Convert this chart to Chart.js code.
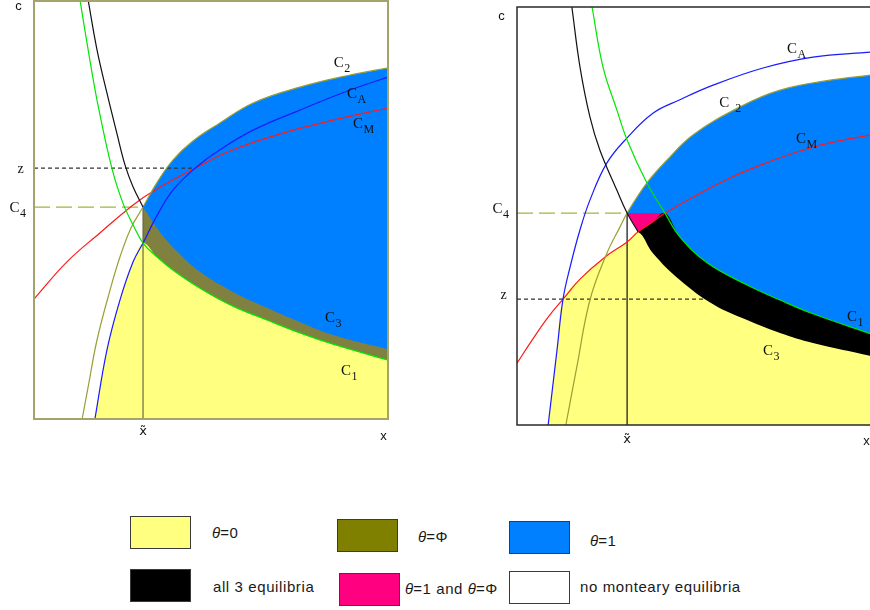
<!DOCTYPE html>
<html>
<head>
<meta charset="utf-8">
<script src="https://cdn.jsdelivr.net/npm/chart.js@4.4.1/dist/chart.umd.min.js"></script>
<style>
  html, body { margin: 0; padding: 0; background: #fff; }
  body { width: 870px; height: 610px; overflow: hidden; position: relative; }
  canvas { position: absolute; top: 0; }
  #left { left: 0; }
  #right { left: 480px; }
  .sw { position: absolute; box-sizing: border-box; border: 1.5px solid #3a3a3a; width: 61px; height: 33px; }
  .lt { position: absolute; font-family: "Liberation Sans", Arial, sans-serif; font-size: 15px; line-height: 18px;
        color: #1a1a1a; letter-spacing: 0.6px; white-space: nowrap; }
  .lt i { font-style: italic; letter-spacing: 0; }
</style>
</head>
<body>
<canvas id="left" width="400" height="450"></canvas>
<canvas id="right" width="400" height="450"></canvas>

<div class="sw" style="left:130px;top:516px;background:#ffff80"></div>
<div class="lt" style="left:212px;top:524px"><i>θ</i>=0</div>
<div class="sw" style="left:337px;top:519px;background:#808000"></div>
<div class="lt" style="left:418px;top:528px"><i>θ</i>=Φ</div>
<div class="sw" style="left:509px;top:521px;background:#0080ff"></div>
<div class="lt" style="left:590px;top:532px"><i>θ</i>=1</div>

<div class="sw" style="left:130px;top:569px;background:#000"></div>
<div class="lt" style="left:213px;top:578px">all 3 equilibria</div>
<div class="sw" style="left:339px;top:573px;background:#ff0080"></div>
<div class="lt" style="left:405px;top:580px"><i>θ</i>=1 and <i>θ</i>=Φ</div>
<div class="sw" style="left:509px;top:571px;background:#fff"></div>
<div class="lt" style="left:580px;top:578px">no monteary equilibria</div>

<script>
// Both diagrams use x on the horizontal axis and c on the vertical axis, each running 0..10.

// ---- left diagram ----
const X_TILDE_L = 3.08;   // x~
const C4_L = 5.07;        // level C4
const Z_L = 6.00;         // level z (where C_A meets C_M)
const Z_END_L = 4.55;

const c1L = [[1.30,10.02],[1.53,8.83],[1.78,7.63],[2.20,6.00],[2.51,5.17],[2.80,4.64],[3.08,4.21],[3.47,3.88],
             [3.93,3.56],[4.69,3.13],[5.62,2.70],[6.58,2.37],[7.51,2.06],[8.45,1.79],[10,1.41]];
const c2L = [[1.36,0],[1.53,0.77],[1.78,1.89],[2.15,3.09],[2.43,3.88],[2.74,4.57],[3.08,5.07],[3.47,5.65],
             [3.93,6.20],[4.49,6.65],[5.25,7.08],[6.19,7.56],[7.51,7.94],[8.93,8.23],[10,8.40]];
const c3L = [[1.53,10.02],[1.78,8.83],[2.06,7.80],[2.34,6.84],[2.57,6.08],[2.80,5.55],[3.08,5.07],[3.56,4.47],
             [4.12,3.95],[4.69,3.52],[5.62,3.04],[6.58,2.66],[7.51,2.32],[8.45,2.01],[10,1.67]];
const cAL = [[1.72,0],[2.06,1.65],[2.43,2.85],[2.80,3.76],[3.08,4.21],[3.47,4.86],[3.93,5.48],[4.55,6.00],
             [5.25,6.44],[6.19,6.91],[7.51,7.39],[8.93,7.87],[10,8.18]];
const cML = [[0,2.87],[0.93,3.76],[1.86,4.45],[2.80,5.12],[3.42,5.48],[4.55,6.00],[5.62,6.44],[7.03,6.84],
             [8.45,7.15],[10,7.44]];

// ---- right diagram ----
const X_TILDE_R = 3.11;
const C4_R = 5.07;
const Z_R = 3.01;
const Z_END_R = 5.30;
const CA_CM_R = 1.30;     // C_A crosses C_M
const CM_C3_R = 3.42;     // C_M crosses C_3
const CM_C1_R = 4.18;     // C_M and C_1 reach C4

const c1R = [[2.12,10.0],[2.43,8.56],[2.82,7.54],[3.11,6.82],[3.67,5.79],[4.18,5.07],[4.60,4.50],[5.37,3.88],
             [6.50,3.35],[7.43,2.99],[8.36,2.66],[10,2.18]];
const c2R = [[1.38,0],[1.69,1.39],[2.06,2.99],[2.54,4.11],[2.91,4.74],[3.11,5.07],[3.67,5.79],[4.24,6.34],
             [4.97,6.94],[6.30,7.61],[7.43,8.01],[8.84,8.25],[10,8.37]];
const c3R = [[1.55,10.0],[1.78,8.56],[2.06,7.37],[2.34,6.58],[2.82,5.62],[3.11,5.07],[3.42,4.62],
             [3.84,4.11],[4.60,3.47],[5.54,2.89],[6.50,2.51],[7.43,2.20],[8.36,1.96],[10,1.65]];
const cAR = [[0.88,0],[1.13,1.79],[1.30,3.01],[1.50,3.78],[1.78,4.67],[2.06,5.38],[2.54,6.27],[3.11,6.87],
             [3.84,7.46],[4.60,7.78],[5.54,8.13],[6.95,8.54],[8.36,8.80],[10,8.92]];
const cMR = [[0,1.48],[0.45,2.06],[0.88,2.58],[1.30,3.01],[1.78,3.49],[2.49,4.02],[3.11,4.38],[3.42,4.62],
             [3.84,4.86],[4.18,5.07],[5.08,5.50],[6.02,5.91],[6.95,6.24],[7.91,6.53],[8.84,6.75],[10,6.94]];

// ---- helpers ----
const pts = a => a.map(([x, y]) => ({ x, y }));
const span = (a, lo, hi, loIncl = true, hiIncl = true) =>
  a.filter(([x]) => (loIncl ? x >= lo : x > lo) && (hiIncl ? x <= hi : x < hi));

const COL = {
  yellow: '#ffff80', olive: '#808040', blue: '#0080ff', black: '#000000', pink: '#ff0080',
  lineBlue: '#1a1aff', lineRed: '#ff1a1a', lineGreen: '#00e600', lineOlive: '#99a033', lineBlack: '#111'
};
const SERIF = '"Liberation Serif", "Times New Roman", serif';
const SANS = '"Liberation Sans", Arial, sans-serif';
const SMOOTH = 0.4;

function area(data, color, order, tension = SMOOTH) {
  return { data: pts(data), fill: 'origin', backgroundColor: color, borderWidth: 0, pointRadius: 0,
           tension, order };
}
function curve(data, color, order, width = 1.2) {
  return { data: pts(data), fill: false, borderColor: color, borderWidth: width, pointRadius: 0,
           tension: SMOOTH, order };
}
function rule(data, color, order, dash, width = 1.2) {
  return { data: pts(data), fill: false, borderColor: color, borderWidth: width, pointRadius: 0,
           borderDash: dash || [], tension: 0, order };
}

// frame, axis letters and curve names
function labelPlugin(cfg) {
  return {
    id: 'diagramText',
    afterDatasetsDraw(chart) {
      const { ctx, chartArea: a, scales: { x, y } } = chart;
      ctx.save();
      ctx.strokeStyle = cfg.frame; ctx.lineWidth = cfg.frameWidth;
      ctx.strokeRect(a.left, a.top, a.right - a.left, a.bottom - a.top);
      ctx.fillStyle = '#111';
      ctx.textBaseline = 'alphabetic';

      const sub = (px, py, main, s, gap) => {
        ctx.textAlign = 'left';
        ctx.font = '15px ' + SERIF;
        ctx.fillText(main, px, py);
        const w = ctx.measureText(main).width;
        ctx.font = '12px ' + SERIF;
        ctx.fillText(s, px + w + (gap || 0.5), py + 5);
      };

      // vertical axis letters
      ctx.textAlign = 'center';
      ctx.font = '13px ' + SANS;
      ctx.fillText('c', a.left - 15.5, a.top + cfg.cDy);
      ctx.font = '14px ' + SERIF;
      ctx.fillText('z', a.left - 13.5, y.getPixelForValue(cfg.z) + cfg.tickDy);
      sub(a.left - 24.5, y.getPixelForValue(cfg.c4) + cfg.tickDy, 'C', '4');

      // horizontal axis letters
      ctx.textAlign = 'center';
      ctx.font = '13px "DejaVu Sans", ' + SANS;
      ctx.fillText('x\u0303', x.getPixelForValue(cfg.xt), a.bottom + cfg.xtDy);
      ctx.font = '13px ' + SANS;
      ctx.fillText('x', a.right - 4.5, a.bottom + cfg.xDy);

      // curve names
      cfg.names.forEach(n => sub(x.getPixelForValue(n.at[0]), y.getPixelForValue(n.at[1]), 'C', n.s, n.gap));
      ctx.restore();
    }
  };
}

function makeChart(id, datasets, pad, cfg) {
  return new Chart(document.getElementById(id), {
    type: 'line',
    data: { datasets },
    options: {
      responsive: false, animation: false, devicePixelRatio: 1,
      events: [],
      layout: { padding: pad },
      plugins: { legend: { display: false }, tooltip: { enabled: false } },
      scales: {
        x: { type: 'linear', min: 0, max: 10, display: false },
        y: { type: 'linear', min: 0, max: 10, display: false }
      }
    },
    plugins: [labelPlugin(cfg)]
  });
}

// ---- left chart ----
makeChart('left', [
  area(span(c2L, X_TILDE_L, 10), COL.blue, 30),
  area(span(c3L, X_TILDE_L, 10), COL.olive, 29),
  area([...span(cAL, 0, X_TILDE_L), ...span(c1L, X_TILDE_L, 10, false)], COL.yellow, 28),
  rule([[X_TILDE_L, C4_L], [X_TILDE_L, 0]], '#6b6b45', 12),
  rule([[0, C4_L], [X_TILDE_L, C4_L]], '#9fb83a', 11, [16, 6]),
  rule([[0, Z_L], [Z_END_L, Z_L]], '#333', 10, [4, 3]),
  curve(cML, COL.lineRed, 6),
  curve(c2L, COL.lineOlive, 5),
  curve(cAL, COL.lineBlue, 4),
  curve(span(c3L, 0, X_TILDE_L), COL.lineBlack, 3),
  curve(c1L, COL.lineGreen, 2)
], { left: 34, top: 1, right: 12, bottom: 31 }, {
  frame: '#a3a36b', frameWidth: 2, z: Z_L, c4: C4_L, xt: X_TILDE_L,
  cDy: 9, tickDy: 5, xtDy: 16, xDy: 21,
  names: [
    { s: '2', at: [8.47, 8.42] }, { s: 'A', at: [8.84, 7.68] }, { s: 'M', at: [9.01, 6.96] },
    { s: '3', at: [8.22, 2.32] }, { s: '1', at: [8.67, 1.05] }
  ]
});

// ---- right chart ----
makeChart('right', [
  area(span(c2R, X_TILDE_R, 10), COL.blue, 30),
  area([[X_TILDE_R, C4_R], [CM_C1_R, C4_R]], COL.pink, 29, 0),
  area(span(c3R, X_TILDE_R, CM_C3_R), '#ffffff', 28),
  area([...span(cMR, CM_C3_R, CM_C1_R), ...span(c1R, CM_C1_R, 10, false)], COL.black, 27),
  area([...span(cAR, 0, CA_CM_R), ...span(cMR, CA_CM_R, CM_C3_R, false), ...span(c3R, CM_C3_R, 10, false)], COL.yellow, 26),
  rule([[X_TILDE_R, C4_R], [X_TILDE_R, 0]], '#111', 12),
  rule([[0, C4_R], [X_TILDE_R, C4_R]], '#9fb83a', 11, [16, 6]),
  rule([[0, Z_R], [Z_END_R, Z_R]], '#333', 10, [4, 3]),
  curve(cMR, COL.lineRed, 6),
  curve(c2R, COL.lineOlive, 5),
  curve(cAR, COL.lineBlue, 4),
  curve(span(c3R, 0, CM_C3_R), COL.lineBlack, 3),
  curve(c1R, COL.lineGreen, 2)
], { left: 37, top: 7, right: 9, bottom: 25 }, {
  frame: '#2a2a2a', frameWidth: 1.5, z: Z_R, c4: C4_R, xt: X_TILDE_R,
  cDy: 13, tickDy: 0, xtDy: 18, xDy: 20,
  names: [
    { s: 'A', at: [7.63, 8.90] }, { s: '2', at: [5.71, 7.61], gap: 6 }, { s: 'M', at: [7.88, 6.75] },
    { s: '1', at: [9.32, 2.49] }, { s: '3', at: [6.95, 1.67] }
  ]
});
</script>
</body>
</html>
